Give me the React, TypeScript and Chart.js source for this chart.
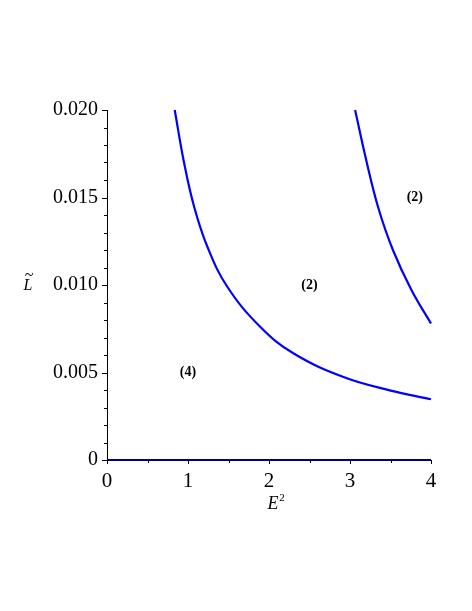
import React, { useEffect, useRef } from "react";
import { Chart, registerables } from "chart.js";

Chart.register(...registerables);

const curve1E = [0.836, 0.951, 1.074, 1.238, 1.485, 1.894, 2.3, 2.92, 3.49, 4.0];
const curve1L = [0.02, 0.017, 0.0145, 0.0122, 0.0099, 0.0076, 0.0061, 0.00474, 0.00398, 0.00347];
const curve2E = [3.063, 3.207, 3.35, 3.53, 3.76, 4.0];
const curve2L = [0.02, 0.017, 0.0144, 0.012, 0.0097, 0.0078];
const zeroE = [0, 4];
const zeroL = [0, 0];

const regionLabels = ["(4)", "(2)", "(2)"];
const regionE = [1.0, 2.5, 3.8];
const regionL = [0.005, 0.01, 0.015];

const xTickValues = [0, 1, 2, 3, 4];
const yTickValues = [0, 0.005, 0.01, 0.015, 0.02];
const yTickLabels = ["0", "0.005", "0.010", "0.015", "0.020"];
const xMinorStep = 0.5;
const yMinorStep = 0.001;

const SERIF = '"Liberation Serif", "Times New Roman", serif';

const pts = (xs: number[], ys: number[]) => xs.map((x, i) => ({ x, y: ys[i] }));

const decorPlugin = {
  id: "decor",
  afterDraw(chart: any) {
    const { ctx, chartArea, scales } = chart;
    const xs = scales.x;
    const ys = scales.y;
    ctx.save();
    ctx.strokeStyle = "#000";
    ctx.lineWidth = 1;
    for (let i = 0; i <= 20; i++) {
      const v = i * yMinorStep;
      const major = i % 5 === 0;
      const py = Math.round(ys.getPixelForValue(v)) + 0.5;
      ctx.beginPath();
      ctx.moveTo(chartArea.left - (major ? 5 : 3), py);
      ctx.lineTo(chartArea.left, py);
      ctx.stroke();
    }
    for (let i = 0; i <= 8; i++) {
      const v = i * xMinorStep;
      const major = i % 2 === 0;
      const px = Math.round(xs.getPixelForValue(v)) + 0.5;
      ctx.beginPath();
      ctx.moveTo(px, chartArea.bottom);
      ctx.lineTo(px, chartArea.bottom + (major ? 4 : 3));
      ctx.stroke();
    }
    ctx.fillStyle = "#000";
    ctx.font = `bold 14px ${SERIF}`;
    ctx.textAlign = "center";
    ctx.textBaseline = "middle";
    regionLabels.forEach((t, i) => {
      ctx.fillText(t, xs.getPixelForValue(regionE[i]), ys.getPixelForValue(regionL[i]));
    });
    const midY = (chartArea.top + chartArea.bottom) / 2;
    ctx.font = `italic 16px ${SERIF}`;
    ctx.fillText("L", chartArea.left - 79, midY + 1);
    ctx.font = `16px ${SERIF}`;
    ctx.fillText("~", chartArea.left - 78, midY - 9);
    const midX = (chartArea.left + chartArea.right) / 2;
    ctx.font = `italic 18px ${SERIF}`;
    ctx.fillText("E", midX + 4, chartArea.bottom + 44);
    ctx.font = `11px ${SERIF}`;
    ctx.fillText("2", midX + 13, chartArea.bottom + 38);
    ctx.restore();
  },
};

export default function App() {
  const ref = useRef<HTMLCanvasElement>(null);
  useEffect(() => {
    if (!ref.current) return;
    const chart = new Chart(ref.current, {
      type: "line",
      data: {
        datasets: [
          {
            data: pts(zeroE, zeroL),
            borderColor: "#00007a",
            borderWidth: 2,
            pointRadius: 0,
            fill: false,
            clip: 4,
          },
          {
            data: pts(curve1E, curve1L),
            borderColor: "#0000ff",
            borderWidth: 2.2,
            pointRadius: 0,
            fill: false,
            tension: 0.4,
            clip: 4,
          },
          {
            data: pts(curve2E, curve2L),
            borderColor: "#0000ff",
            borderWidth: 2.2,
            pointRadius: 0,
            fill: false,
            tension: 0.4,
            clip: 4,
          },
        ],
      } as any,
      options: {
        animation: false,
        responsive: false,
        layout: { padding: { left: 0, right: 41, top: 110, bottom: 111 } },
        plugins: { legend: { display: false }, tooltip: { enabled: false } },
        scales: {
          x: {
            type: "linear",
            min: 0,
            max: 4,
            afterFit: (s: any) => {
              s.height = 40;
            },
            afterBuildTicks: (s: any) => {
              s.ticks = xTickValues.map((v) => ({ value: v }));
            },
            ticks: {
              color: "#000",
              font: { family: SERIF, size: 21 },
              padding: 9,
              maxRotation: 0,
              callback: (v: any) => String(v),
            },
            grid: { drawOnChartArea: false, drawTicks: false },
            border: { display: true, color: "#000", width: 1 },
          },
          y: {
            type: "linear",
            min: 0,
            max: 0.02,
            afterFit: (s: any) => {
              s.width = 107;
            },
            afterBuildTicks: (s: any) => {
              s.ticks = yTickValues.map((v) => ({ value: v }));
            },
            ticks: {
              color: "#000",
              font: { family: SERIF, size: 20 },
              padding: 9,
              callback: (v: any) => {
                const i = yTickValues.findIndex((t) => Math.abs(t - v) < 1e-9);
                return i >= 0 ? yTickLabels[i] : "";
              },
            },
            grid: { drawOnChartArea: false, drawTicks: false },
            border: { display: true, color: "#000", width: 1 },
          },
        },
      } as any,
      plugins: [decorPlugin],
    });
    return () => chart.destroy();
  }, []);
  return (
    <div style={{ position: "fixed", left: 0, top: 0, width: 472, height: 611, background: "#fff" }}>
      <canvas ref={ref} width={472} height={611} style={{ display: "block" }} />
    </div>
  );
}
